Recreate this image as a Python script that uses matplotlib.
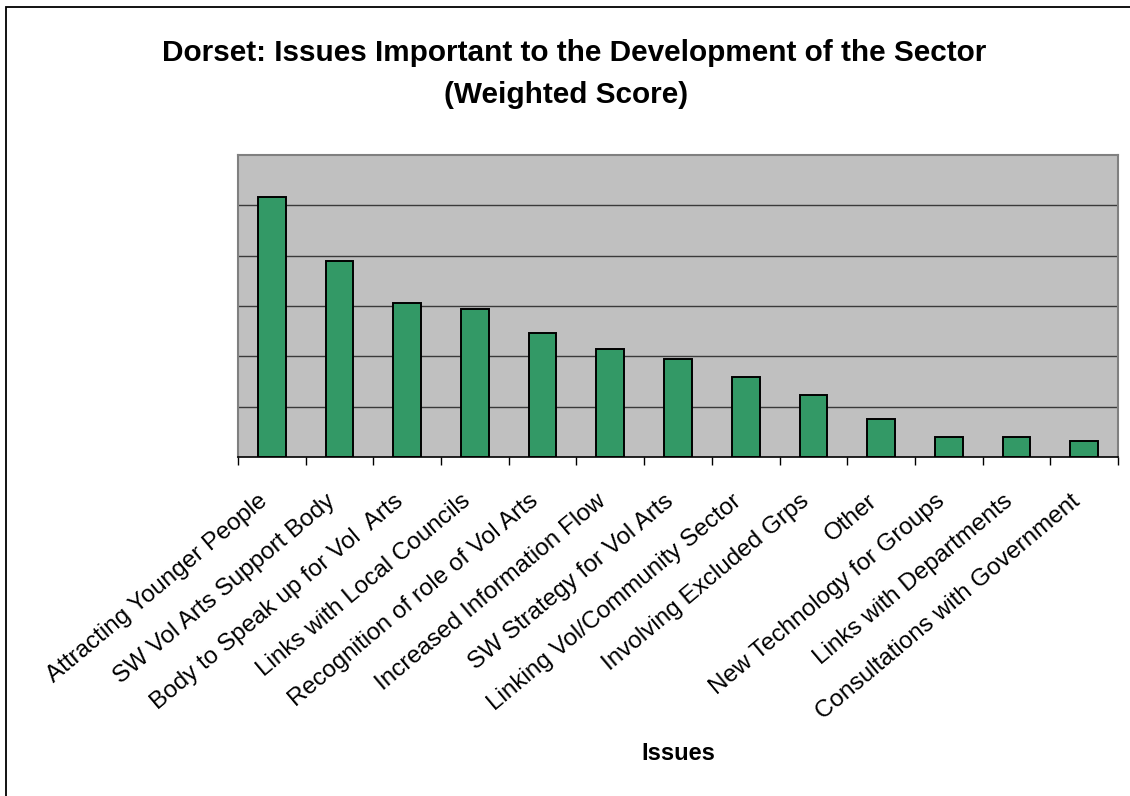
import numpy as np
import matplotlib.pyplot as plt
from matplotlib.patches import Rectangle
from matplotlib.transforms import ScaledTranslation

plt.rcParams['font.family'] = ['Liberation Sans', 'DejaVu Sans']

# data (one gridline = 10 units, no axis labels shown)
issues = [
    "Attracting Younger People",
    "SW Vol Arts Support Body",
    "Body to Speak up for Vol  Arts",
    "Links with Local Councils",
    "Recognition of role of Vol Arts",
    "Increased Information Flow",
    "SW Strategy for Vol Arts",
    "Linking Vol/Community Sector",
    "Involving Excluded Grps",
    "Other",
    "New Technology for Groups",
    "Links with Departments",
    "Consultations with Government",
]
scores = [51.7, 39.0, 30.6, 29.4, 24.6, 21.5, 19.5, 15.9, 12.3, 7.5, 3.9, 3.9, 3.1]
grid_levels = [10, 20, 30, 40, 50]

fig = plt.figure(figsize=(11.3, 7.96), dpi=100)
ax = fig.add_axes([238 / 1130, 1 - 457 / 796, 880 / 1130, 302 / 796])

x = np.arange(len(issues))
ax.set_facecolor("#C0C0C0")
ax.bar(x, scores, width=0.41, color="#339966", edgecolor="black",
       linewidth=1.4, zorder=3)

ax.set_xlim(-0.5, len(issues) - 0.5)
ax.set_ylim(0, 60)

# horizontal gridlines, no y labels
ax.set_yticks(grid_levels)
ax.set_yticklabels([])
ax.tick_params(axis="y", length=0)
ax.grid(axis="y", color="#3a3a3a", linewidth=1.0, zorder=1)

# ticks on category boundaries, labels at centres
ax.set_xticks(np.arange(-0.5, len(issues), 1.0))
ax.set_xticklabels([])
ax.tick_params(axis="x", which="major", length=6, width=1, color="black", direction="out")
ax.set_xticks(x, minor=True)
ax.set_xticklabels(issues, minor=True, rotation=40, ha="right", va="center",
                   rotation_mode="anchor", fontsize=17.5)
ax.tick_params(axis="x", which="minor", length=0, pad=30)
shift = ScaledTranslation(-7 / 100, 0, fig.dpi_scale_trans)
for lbl in ax.get_xticklabels(minor=True):
    lbl.set_transform(lbl.get_transform() + shift)

for side in ["top", "right", "left"]:
    ax.spines[side].set_color("#808080")
    ax.spines[side].set_linewidth(1.5)
ax.spines["bottom"].set_color("black")
ax.spines["bottom"].set_linewidth(1.2)

fig.text(0.508, 1 - 53 / 796, "Dorset: Issues Important to the Development of the Sector",
         ha="center", va="center", fontsize=21.4, fontweight="bold")
fig.text(0.501, 1 - 95 / 796, "(Weighted Score)",
         ha="center", va="center", fontsize=21.4, fontweight="bold")
fig.text(678 / 1130, 1 - 753 / 796, "Issues", ha="center", va="center",
         fontsize=17, fontweight="bold")

# outer chart frame
fig.patches.append(Rectangle((6 / 1130, -0.05), 1.2, 1 - 7 / 796 + 0.05,
                             transform=fig.transFigure, fill=False,
                             edgecolor="black", linewidth=1.3))

fig.savefig("out.png", dpi=100)
